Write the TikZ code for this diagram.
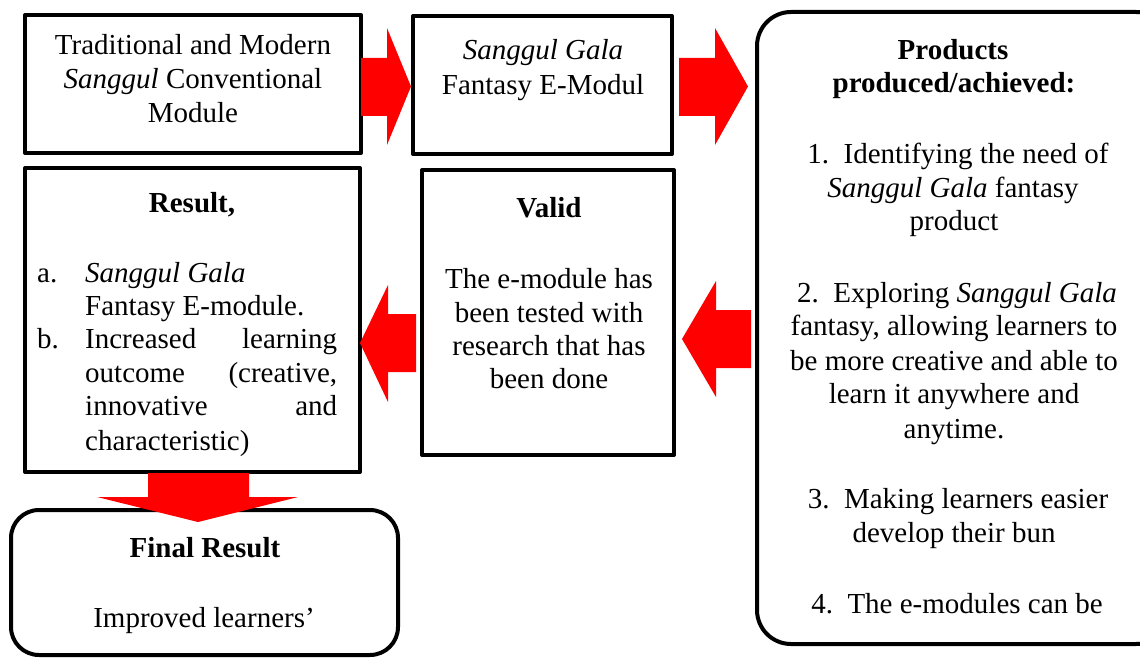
\documentclass[tikz,border=0pt]{standalone}
\usepackage{fontspec}
\setmainfont{Liberation Serif}
\begin{document}
\begin{tikzpicture}[x=1pt,y=-1pt,
  box/.style={draw=black,line width=4pt,line join=round},
  rbox/.style={draw=black,line width=4pt},
  blockarrow/.style={fill=red,draw=none},
  txt/.style={anchor=base,inner sep=0pt,font=\fontsize{29}{34}\selectfont},
  txtl/.style={anchor=base west,inner sep=0pt,font=\fontsize{29}{34}\selectfont},
  bold/.style={txt,font=\fontsize{29}{34}\selectfont\bfseries}]
\useasboundingbox (0,0) rectangle (1140,658);
% boxes
\draw[box] (25,15) rectangle (361,153);
\draw[box] (413,16) rectangle (672,154);
\draw[rbox,rounded corners=34pt] (757,12) rectangle (1170,644);
\draw[box] (25,168) rectangle (360,472);
\draw[box] (422,170) rectangle (674,455);
\draw[rbox,rounded corners=28pt] (11,510) rectangle (398,655);
% block arrows
\fill[blockarrow] (361,58)--(387,58)--(387,28)--(411,86.5)--(387,145)--(387,116)--(361,116)--cycle;
\fill[blockarrow] (679,58)--(715,58)--(715,28)--(748,86.5)--(715,145)--(715,116)--(679,116)--cycle;
\fill[blockarrow] (416,314)--(388,314)--(388,285)--(360,343)--(388,402)--(388,372)--(416,372)--cycle;
\fill[blockarrow] (751,310)--(716,310)--(716,281)--(682,339)--(716,397)--(716,368)--(751,368)--cycle;
\fill[blockarrow] (148,473)--(249,473)--(249,497)--(298,497)--(198,522)--(97,497)--(148,497)--cycle;
% box 1
\node[txt] (a1) at (193,55) {Traditional and Modern};
\node[txt] (a2) at (193,89) {\textit{Sanggul} Conventional};
\node[txt] (a3) at (193,123) {Module};
% box 2
\node[txt] (b1) at (543,60) {\textit{Sanggul Gala}};
\node[txt] (b2) at (543,95) {Fantasy E-Modul};
% box 3
\node[bold] (c1) at (953,60) {Products};
\node[bold] (c2) at (954,93) {produced/achieved:};
\node[txt] (c3) at (958,163) {1.\ \ Identifying the need of};
\node[txt] (c4) at (953,197) {\textit{Sanggul Gala} fantasy};
\node[txt] (c5) at (954,230) {product};
\node[txt] (c6) at (957,302) {2.\ \ Exploring \textit{Sanggul Gala}};
\node[txt] (c7) at (954,335) {fantasy, allowing learners to};
\node[txt] (c8) at (954,370) {be more creative and able to};
\node[txt] (c9) at (954,403) {learn it anywhere and};
\node[txt] (c10) at (954,438) {anytime.};
\node[txt] (c11) at (958,508) {3.\ \ Making learners easier};
\node[txt] (c12) at (954,542) {develop their bun};
\node[txt] (c13) at (957,613) {4.\ \ The e-modules can be};
% box 4
\node[bold] (d0) at (192,212) {Result,};
\node[txtl] (d1) at (37,282) {a.};
\node[txtl] (d2) at (85,282) {\textit{Sanggul Gala}};
\node[txtl] (d3) at (85,315) {Fantasy E-module.};
\node[txtl] (d4) at (37,348) {b.};
\node[txtl] (d5) at (85,348) {\hbox to 252pt{Increased\hfill learning}};
\node[txtl] (d6) at (85,382) {\hbox to 252pt{outcome\hfill (creative,}};
\node[txtl] (d7) at (85,415) {\hbox to 252pt{innovative\hfill and}};
\node[txtl] (d8) at (85,450) {characteristic)};
% box 5
\node[bold] (e0) at (549,217) {Valid};
\node[txt] (e1) at (549,288) {The e-module has};
\node[txt] (e2) at (549,322) {been tested with};
\node[txt] (e3) at (549,355) {research that has};
\node[txt] (e4) at (549,388) {been done};
% box 6
\node[bold] (f0) at (205,557) {Final Result};
\node[txt] (f1) at (204,627) {Improved learners’};
\end{tikzpicture}
\end{document}
